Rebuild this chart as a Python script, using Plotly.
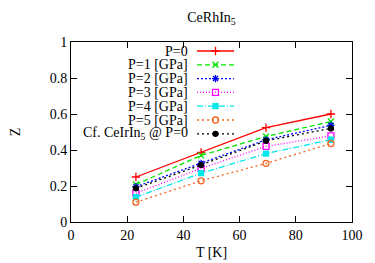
import plotly.graph_objects as go

# ---- data ----
T = [23.1, 46.3, 69.4, 92.5]
series_names = ["P=0", "P=1 [GPa]", "P=2 [GPa]", "P=3 [GPa]", "P=4 [GPa]", "P=5 [GPa]",
                "Cf. CeIrIn<sub>5</sub> @ P=0"]
Z_P0 = [0.250, 0.386, 0.524, 0.600]
Z_P1 = [0.208, 0.370, 0.475, 0.558]
Z_P2 = [0.196, 0.326, 0.457, 0.537]
Z_P3 = [0.160, 0.298, 0.420, 0.479]
Z_P4 = [0.138, 0.271, 0.380, 0.457]
Z_P5 = [0.110, 0.229, 0.326, 0.436]
Z_Ir = [0.187, 0.317, 0.451, 0.520]
x_ticks = [0, 20, 40, 60, 80, 100]
y_ticks = [0, 0.2, 0.4, 0.6, 0.8, 1]

all_Z = [Z_P0, Z_P1, Z_P2, Z_P3, Z_P4, Z_P5, Z_Ir]

# ---- styles ----
colors = ["#ff0000", "#00e600", "#0000ff", "#ff00ff", "#00e8e8", "#f26522", "#000000"]
dashes = ["solid", "5px,3px", "2px,2px", "1px,2px", "6px,2px,1px,2px", "2px,3px", "2px,3px"]
symbols = ["cross-thin-open", "x-thin-open", "asterisk-open", "square-open", "square",
           "circle-open", "circle"]
sizes = [6, 6, 6, 6, 5, 6, 5]

FONT = "Liberation Serif, Times New Roman, serif"
FS = 14
OFF = 8  # page body margin
PL, PR, PT, PB = 71, 352, 42, 222   # plot box in page pixels
W, H = 375 - OFF, 263 - OFF
L, R, TOP, BOT = PL - OFF, PR - OFF, PT - OFF, PB - OFF

fig = go.Figure()
for name, z, c, d, s, sz in zip(series_names, all_Z, colors, dashes, symbols, sizes):
    fig.add_trace(go.Scatter(
        x=T, y=z, mode="lines+markers", name=name, showlegend=False,
        line=dict(color=c, width=1.3, dash=d),
        marker=dict(symbol=s, size=sz, color=c, line=dict(color=c, width=1.3)),
    ))

# ---- gnuplot-style key (text left of sample) on a pixel-space overlay axis ----
key_y = [51, 64.8, 78.6, 92.4, 106.2, 120, 133.8]
for name, ky, c, d, s, sz in zip(series_names, key_y, colors, dashes, symbols, sizes):
    fig.add_trace(go.Scatter(
        x=[197, 234], y=[ky, ky], mode="lines", xaxis="x2", yaxis="y2", showlegend=False,
        line=dict(color=c, width=1.3, dash=d), hoverinfo="skip"))
    fig.add_trace(go.Scatter(
        x=[215.5], y=[ky], mode="markers", xaxis="x2", yaxis="y2", showlegend=False,
        marker=dict(symbol=s, size=sz, color=c, line=dict(color=c, width=1.3)),
        hoverinfo="skip"))
    fig.add_annotation(x=190, y=ky, xref="x2", yref="y2", text=name, showarrow=False,
                       xanchor="right", yanchor="middle",
                       font=dict(family=FONT, size=FS, color="black"))

axis_common = dict(showline=True, linecolor="black", linewidth=1, mirror="ticks",
                   ticks="inside", ticklen=6, tickcolor="black", showgrid=False,
                   zeroline=False, automargin=False,
                   tickfont=dict(family=FONT, size=FS, color="black"))

fig.update_layout(
    width=W, height=H,
    margin=dict(l=L, r=W - R, t=TOP, b=H - BOT, pad=0),
    paper_bgcolor="white", plot_bgcolor="white",
    title=dict(text="CeRhIn<sub>5</sub>", x=(L + R) / 2 / W, xanchor="center",
               y=1 - (17 - OFF) / H, yanchor="middle",
               font=dict(family=FONT, size=FS, color="black")),
    xaxis=dict(range=[0, 100], tickvals=x_ticks,
               title=dict(text="T [K]", font=dict(family=FONT, size=FS, color="black"),
                          standoff=5),
               **axis_common),
    yaxis=dict(range=[0, 1], tickvals=y_ticks, ticktext=[str(v) for v in y_ticks],
               title=dict(text="Z", font=dict(family=FONT, size=FS, color="black"),
                          standoff=27),
               **axis_common),
    xaxis2=dict(range=[PL, PR], overlaying="x", visible=False, domain=[0, 1]),
    yaxis2=dict(range=[PB, PT], overlaying="y", visible=False),
    showlegend=False,
)

fig.write_html("out.html")
